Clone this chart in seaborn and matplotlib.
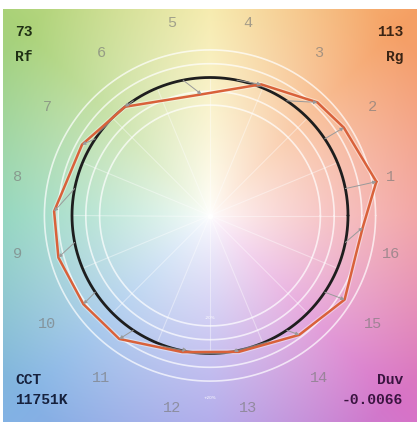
import numpy as np
import matplotlib
matplotlib.use("Agg")
import matplotlib.pyplot as plt
import seaborn as sns

# TM-30 colour vector graphic: 16 hue bins
bins = list(range(1, 17))
# test / reference chroma ratio and test hue angle (degrees) per bin
ratio = [1.23, 1.16, 1.13, 1.02, 0.88, 1.00, 1.06, 1.13,
         1.14, 1.12, 1.11, 1.01, 1.01, 1.08, 1.15, 1.11]
test_hue = [11.5, 33.3, 46.5, 68.7, 94.0, 128.0, 151.0, 178.5,
            195.5, 215.0, 233.7, 258.5, 282.0, 306.8, 328.0, 355.5]
rings = [0.8, 0.9, 1.1, 1.2]

rf, rg = 73, 113
cct, duv = "11751K", "-0.0066"

sns.set_theme(style="white")

fig = plt.figure(figsize=(4.17, 4.23), dpi=100)
ax = fig.add_axes([3 / 417, 0, 414 / 417, 415 / 423])
ax.set_xlim(-1.5, 1.5)
ax.set_ylim(-1.5, 1.5)
ax.axis("off")

# background hue wheel
anchor_deg = [0, 45, 90, 135, 180, 225, 270, 315, 360]
anchor_rgb = np.array([
    (240, 150, 150), (245, 160, 100), (245, 232, 160), (170, 210, 120),
    (130, 208, 180), (130, 178, 228), (165, 158, 232), (215, 115, 200),
    (240, 150, 150)]) / 255.0
g = np.linspace(-1.5, 1.5, 300)
gx, gy = np.meshgrid(g, g[::-1])
ang = np.degrees(np.arctan2(gy, gx)) % 360
rad = np.hypot(gx, gy)
t = np.clip(rad / 1.9, 0, 1) ** 0.75
img = np.empty(gx.shape + (3,))
for c in range(3):
    col = np.interp(ang, anchor_deg, anchor_rgb[:, c])
    img[..., c] = 1 - t * (1 - col)
ax.imshow(img, extent=(-1.5, 1.5, -1.5, 1.5), interpolation="bilinear", zorder=0)

# radial bin lines
for k in range(16):
    a = np.radians(k * 22.5)
    ax.plot([0, np.cos(a)], [0, np.sin(a)], color="white", lw=0.8, alpha=0.4, zorder=1)
ax.plot(0, 0, "o", color="white", ms=3, zorder=1)

# rings
th = np.linspace(0, 2 * np.pi, 361)
for r in rings:
    ax.plot(r * np.cos(th), r * np.sin(th), color="white", lw=1.2, alpha=0.7, zorder=2)
ax.text(0, -0.74, "-20%", color="white", fontsize=3, ha="center", va="center", zorder=2)
ax.text(0, -1.32, "+20%", color="white", fontsize=3, ha="center", va="center", zorder=2)

# reference circle
sns.lineplot(x=np.cos(th), y=np.sin(th), sort=False, estimator=None,
             color="#1e1e1e", lw=2.0, ax=ax, zorder=3)

# test polygon
centers = np.radians((np.array(bins) - 0.5) * 22.5)
hue = np.radians(test_hue)
tx = np.array(ratio) * np.cos(hue)
ty = np.array(ratio) * np.sin(hue)
px = np.append(tx, tx[0])
py = np.append(ty, ty[0])
ax.plot(px, py, color="white", lw=3.4, alpha=0.4, zorder=4)
sns.lineplot(x=px, y=py, sort=False, estimator=None,
             color="#d9613a", lw=1.8, ax=ax, zorder=5)

# arrows reference -> test
for c, x, y in zip(centers, tx, ty):
    ax.annotate("", xy=(x, y), xytext=(np.cos(c), np.sin(c)),
                arrowprops=dict(arrowstyle="-|>", color="#9a9a9a", lw=0.7,
                                mutation_scale=5, shrinkA=0, shrinkB=0),
                zorder=6)

# hue bin labels
for b, c in zip(bins, centers):
    lx = min(1.42 * np.cos(c), 1.31)
    ly = 1.42 * np.sin(c)
    ax.text(lx, ly, str(b), color="#7a7a7a", alpha=0.65, fontsize=11,
            family="Liberation Mono", ha="center", va="center", zorder=7)

# corner metrics
kw = dict(family="Liberation Mono", weight="bold", fontsize=10.5, zorder=8)
ax.text(-1.41, 1.33, str(rf), color="#1f2f14", ha="left", va="center", **kw)
ax.text(-1.41, 1.15, "Rf", color="#1f2f14", ha="left", va="center", **kw)
ax.text(1.40, 1.33, str(rg), color="#3a2414", ha="right", va="center", **kw)
ax.text(1.40, 1.15, "Rg", color="#3a2414", ha="right", va="center", **kw)
ax.text(-1.41, -1.19, "CCT", color="#16213d", ha="left", va="center", **kw)
ax.text(-1.41, -1.34, cct, color="#16213d", ha="left", va="center", **kw)
ax.text(1.40, -1.19, "Duv", color="#3a1440", ha="right", va="center", **kw)
ax.text(1.40, -1.34, duv, color="#3a1440", ha="right", va="center", **kw)

fig.savefig("out.png", dpi=100)
